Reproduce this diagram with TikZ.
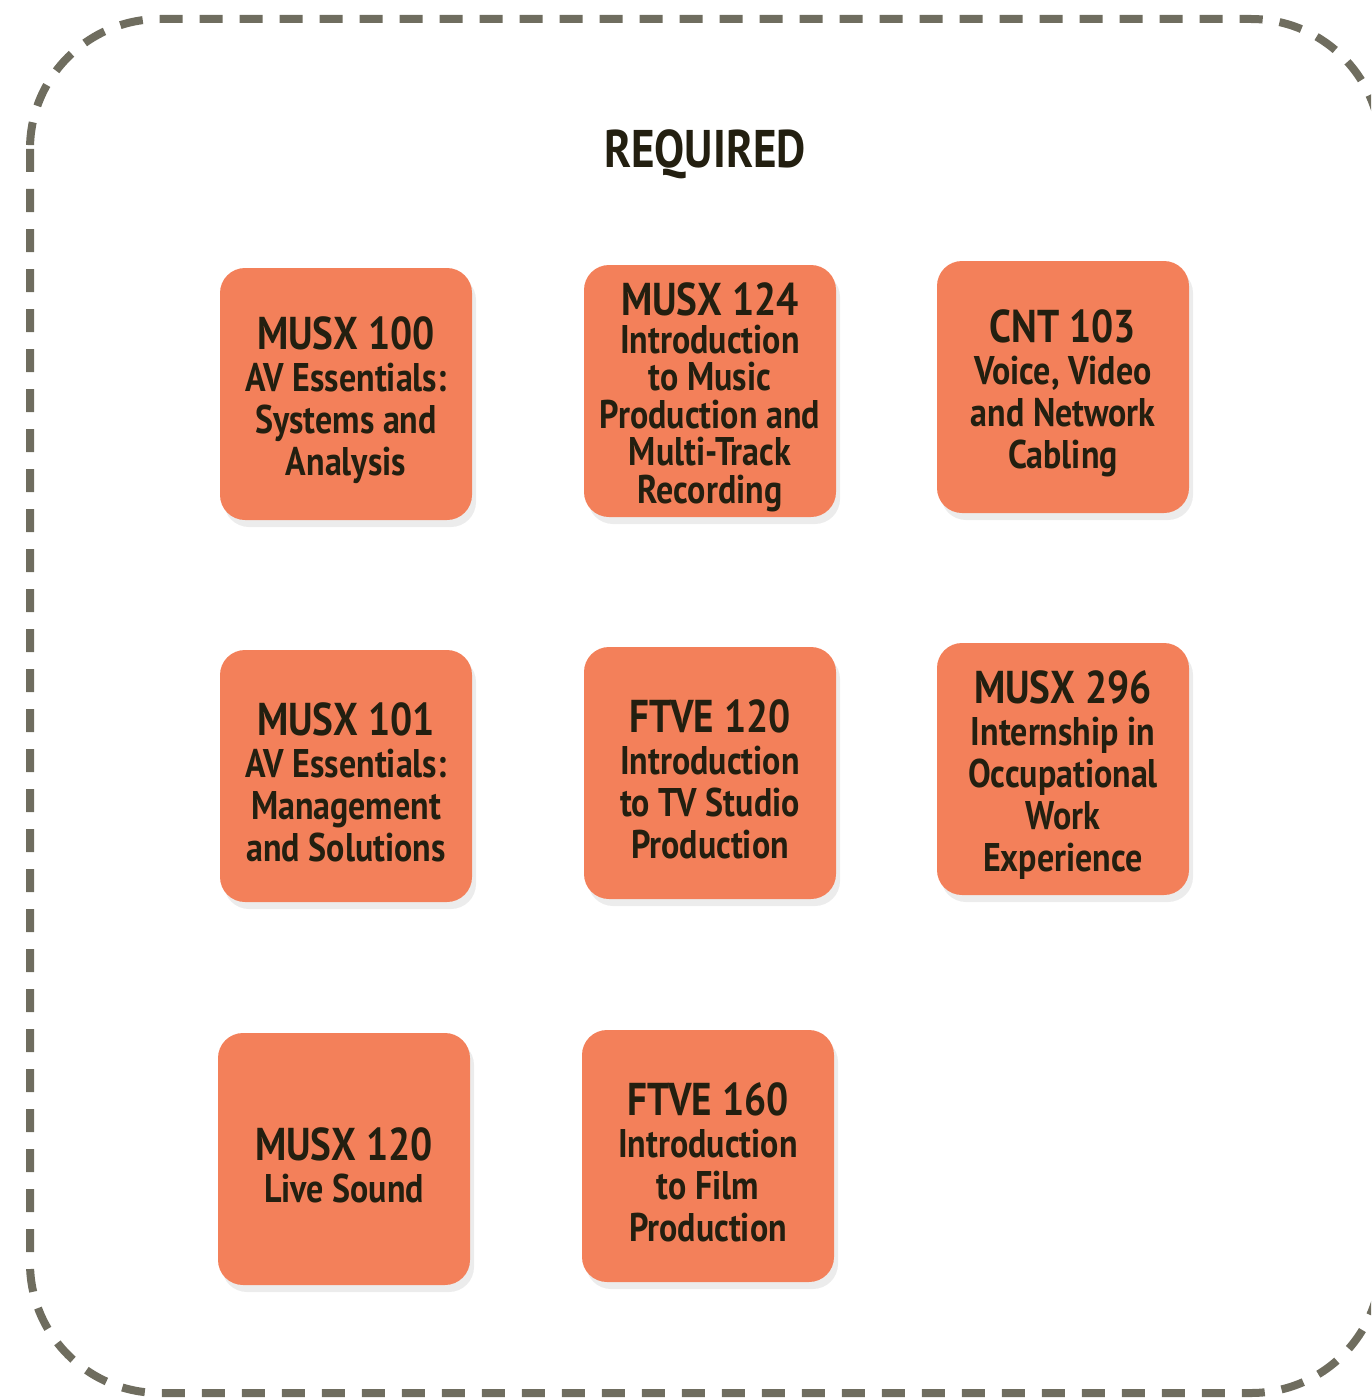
\documentclass[tikz,border=0pt]{standalone}
\usepackage{fontspec}
\setmainfont{PT Sans}[FakeStretch=0.85]
\usetikzlibrary{shadows}

\definecolor{courseorange}{HTML}{F3805A}
\definecolor{inkdark}{HTML}{231F10}
\definecolor{framegray}{HTML}{6F6D5F}

\newcommand{\coursecode}[1]{{\fontsize{46}{42}\selectfont\rule{0pt}{45pt}#1}}

\tikzset{
	course/.style={rounded corners=25pt, fill=courseorange, text=inkdark,
		minimum width=252pt, minimum height=252pt, inner sep=0pt, align=center,
		font=\bfseries\fontsize{40}{42}\selectfont,
		drop shadow={opacity=0.15, shadow xshift=4pt, shadow yshift=-7pt}},
	frame/.style={draw=framegray, line width=8pt, dash pattern=on 23pt off 17pt, rounded corners=130pt}
}

\begin{document}
\begin{tikzpicture}[x=1pt, y=-1pt]
		\clip (0,0) rectangle (1371,1399);
		\draw[frame] (30,19) rectangle (1381,1393);
		
		\node[text=inkdark, font=\bfseries\fontsize{53}{53}\selectfont] (title) at (705,154) {REQUIRED};
		
		% first row
		\node[course] (musx100) at (346,394) {\coursecode{MUSX 100}\\AV Essentials:\\Systems and\\Analysis};
		\node[course, font=\bfseries\fontsize{40}{37.5}\selectfont] (musx124) at (710,391) {\coursecode{MUSX 124}\\Introduction\\to Music\\Production and\\Multi-Track\\Recording};
		\node[course] (cnt103) at (1063,387) {\coursecode{CNT 103}\\Voice, Video\\and Network\\Cabling};
		
		% second row
		\node[course] (musx101) at (346,776) {\coursecode{MUSX 101}\\AV Essentials:\\Management\\and Solutions};
		\node[course] (ftve120) at (710,773) {\coursecode{FTVE 120}\\Introduction\\to TV Studio\\Production};
		\node[course] (musx296) at (1063,769) {\coursecode{MUSX 296}\\Internship in\\Occupational\\Work\\Experience};
		
		% third row
		\node[course] (musx120) at (344,1159) {\coursecode{MUSX 120}\\Live Sound};
		\node[course] (ftve160) at (708,1156) {\coursecode{FTVE 160}\\Introduction\\to Film\\Production};
\end{tikzpicture}
\end{document}
